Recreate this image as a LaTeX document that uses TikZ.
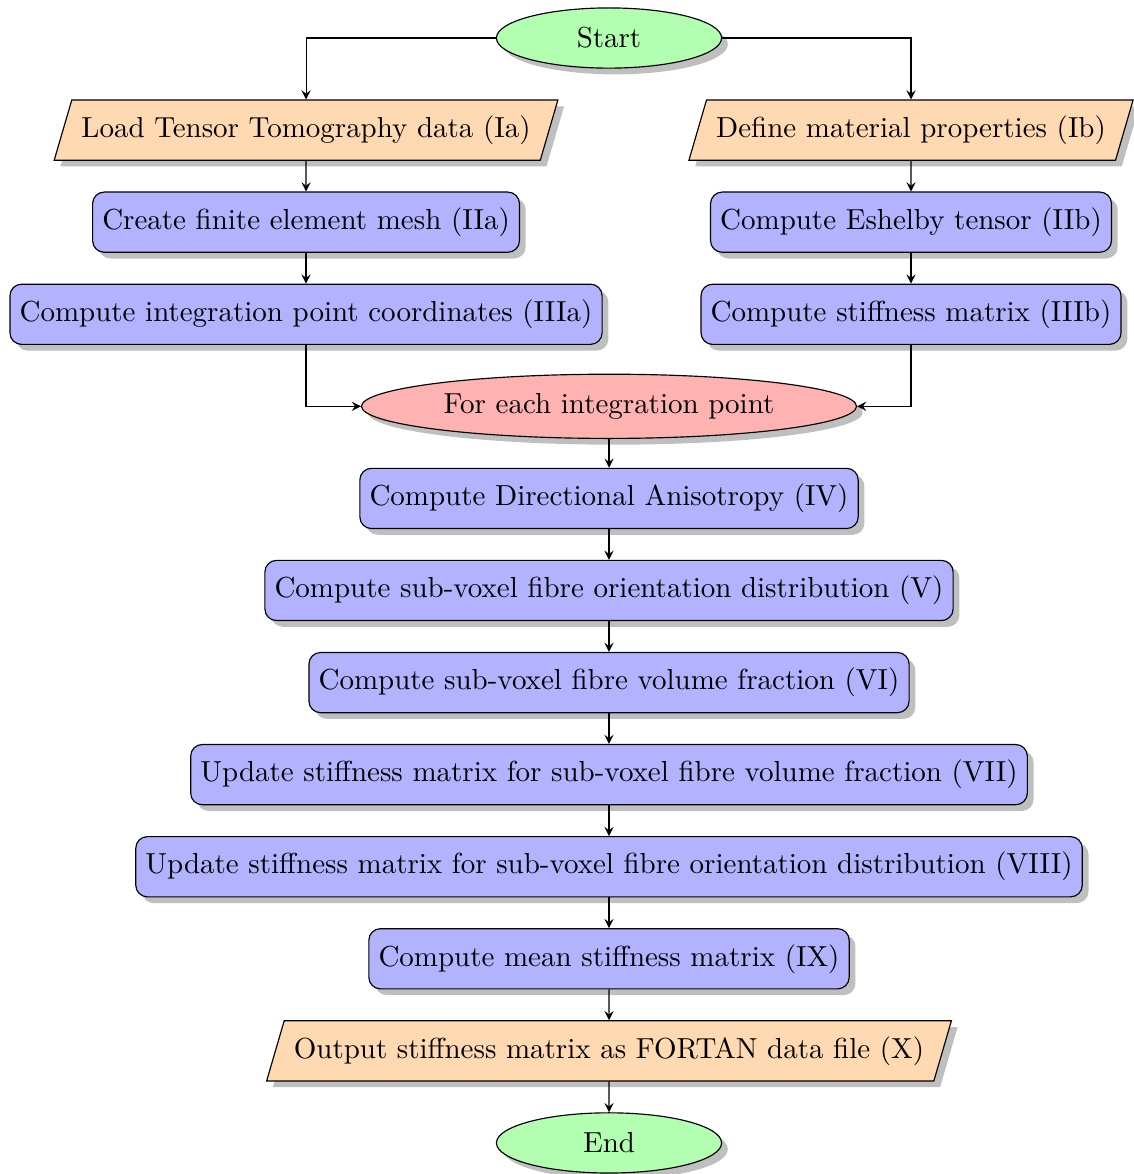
\documentclass[tikz,border=0pt]{standalone}
\usepackage{tikz}
\usetikzlibrary{shapes.geometric, arrows, shadows}

\tikzset{
startstop/.style = {ellipse, draw, fill=green!30, drop shadow, minimum width=2.73cm, minimum height=0.73cm},
loopnode/.style = {ellipse, draw, fill=red!30, drop shadow},
io/.style = {trapezium, trapezium left angle=70, trapezium right angle=110, trapezium stretches body, draw, fill=orange!30, drop shadow, minimum height=0.73cm},
process/.style = {rectangle, rounded corners, draw, fill=blue!30, drop shadow, minimum height=0.73cm},
arrow/.style = {->, >=stealth},
}

\begin{document}
\begin{tikzpicture}
\useasboundingbox (-7.385,0.461) rectangle (6.366,-13.775);

\node[startstop] (start) at (0,0) {Start};
\node[io] (ia) at (-3.674,-1.117) {Load Tensor Tomography data (Ia)};
\node[io] (ib) at (3.662,-1.117) {Define material properties (Ib)};
\node[process] (iia) at (-3.674,-2.233) {Create finite element mesh (IIa)};
\node[process] (iib) at (3.662,-2.233) {Compute Eshelby tensor (IIb)};
\node[process] (iiia) at (-3.674,-3.350) {Compute integration point coordinates (IIIa)};
\node[process] (iiib) at (3.662,-3.350) {Compute stiffness matrix (IIIb)};
\node[loopnode] (foreach) at (0,-4.466) {For each integration point};
\node[process] (iv) at (0,-5.583) {Compute Directional Anisotropy (IV)};
\node[process] (v) at (0,-6.699) {Compute sub-voxel fibre orientation distribution (V)};
\node[process] (vi) at (0,-7.816) {Compute sub-voxel fibre volume fraction (VI)};
\node[process] (vii) at (0,-8.932) {Update stiffness matrix for sub-voxel fibre volume fraction (VII)};
\node[process] (viii) at (0,-10.049) {Update stiffness matrix for sub-voxel fibre orientation distribution (VIII)};
\node[process] (ix) at (0,-11.165) {Compute mean stiffness matrix (IX)};
\node[io] (x) at (0,-12.282) {Output stiffness matrix as FORTAN data file (X)};
\node[startstop] (stop) at (0,-13.398) {End};

\draw[arrow] (start) -| (ia);
\draw[arrow] (start) -| (ib);
\draw[arrow] (ia) -- (iia);
\draw[arrow] (iia) -- (iiia);
\draw[arrow] (ib) -- (iib);
\draw[arrow] (iib) -- (iiib);
\draw[arrow] (iiia) |- (foreach);
\draw[arrow] (iiib) |- (foreach);
\draw[arrow] (foreach) -- (iv);
\draw[arrow] (iv) -- (v);
\draw[arrow] (v) -- (vi);
\draw[arrow] (vi) -- (vii);
\draw[arrow] (vii) -- (viii);
\draw[arrow] (viii) -- (ix);
\draw[arrow] (ix) -- (x);
\draw[arrow] (x) -- (stop);

\end{tikzpicture}
\end{document}
